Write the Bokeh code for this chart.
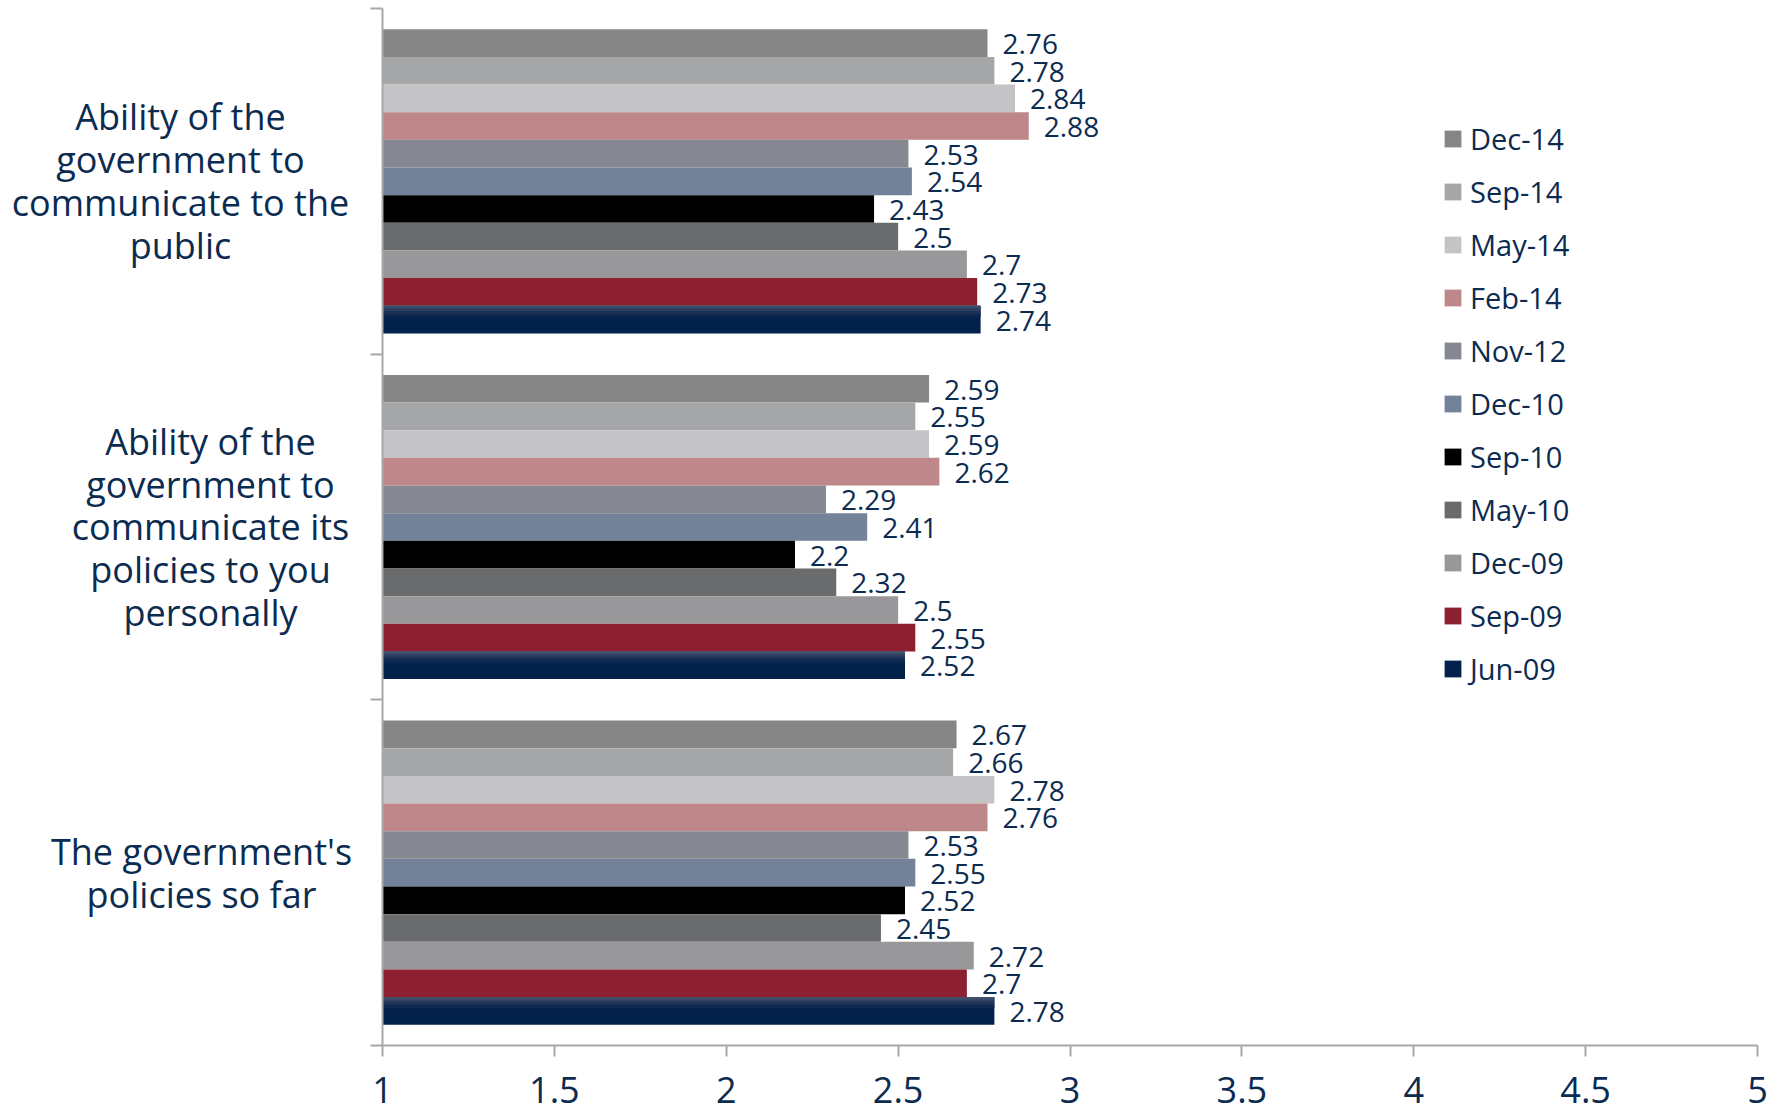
from bokeh.plotting import figure
from bokeh.layouts import row
from bokeh.models import Range1d, FixedTicker, Legend, LegendItem, ColumnDataSource
from bokeh.transform import dodge
from bokeh.core.properties import value
from bokeh.embed import file_html
from bokeh.resources import INLINE

# ---------------- data ----------------
categories = [
    "Ability of the government to communicate to the public",
    "Ability of the government to communicate its policies to you personally",
    "The government's policies so far",
]
category_lines = [
    "Ability of the\ngovernment to\ncommunicate to the\npublic",
    "Ability of the\ngovernment to\ncommunicate its\npolicies to you\npersonally",
    "The government's\npolicies so far",
]
series = ["Dec-14", "Sep-14", "May-14", "Feb-14", "Nov-12", "Dec-10",
          "Sep-10", "May-10", "Dec-09", "Sep-09", "Jun-09"]
dec14 = [2.76, 2.59, 2.67]
sep14 = [2.78, 2.55, 2.66]
may14 = [2.84, 2.59, 2.78]
feb14 = [2.88, 2.62, 2.76]
nov12 = [2.53, 2.29, 2.53]
dec10 = [2.54, 2.41, 2.55]
sep10 = [2.43, 2.20, 2.52]
may10 = [2.50, 2.32, 2.45]
dec09 = [2.70, 2.50, 2.72]
sep09 = [2.73, 2.55, 2.70]
jun09 = [2.74, 2.52, 2.78]
values = [dec14, sep14, may14, feb14, nov12, dec10, sep10, may10, dec09, sep09, jun09]
x_ticks = [1, 1.5, 2, 2.5, 3, 3.5, 4, 4.5, 5]
x_tick_labels = ["1", "1.5", "2", "2.5", "3", "3.5", "4", "4.5", "5"]

# ---------------- style ----------------
colors = ["#868686", "#a5a6a8", "#c4c4c6", "#be878a", "#858891", "#738299",
          "#000000", "#6a6b6d", "#98989a", "#8c1f30", "#03224b"]
jun_grad = ["#3f4e6b", "#2d3f60", "#1b3156", "#0e2850"]
FONT = "Open Sans"
NAVY = "#0c2b50"
AXIS = "#a7a8ae"

H = 1105
TOP = 8
BOTTOM = 60
LEFT_W = 368
MAIN_W = 1407

n_cat = len(categories)
cat_y = [n_cat - i - 0.5 for i in range(n_cat)]
bar_h = 0.08
group_span = bar_h * len(series)
yr = Range1d(0, n_cat)

# ---------------- main plot ----------------
p = figure(width=MAIN_W, height=H, output_backend="svg", toolbar_location=None,
           x_range=Range1d(1, 5), y_range=yr,
           min_border_left=14, min_border_right=18, min_border_top=TOP, min_border_bottom=BOTTOM)
p.outline_line_color = None
p.grid.visible = False

renderers = []
for j, (name, vals, col) in enumerate(zip(series, values, colors)):
    off = group_span / 2 - bar_h * (j + 0.5)
    src = ColumnDataSource(dict(y=cat_y, v=vals, lab=["%g" % v for v in vals]))
    r = p.hbar(y=dodge("y", off), left=1, right="v", height=bar_h,
               fill_color=col, line_color=None, source=src)
    renderers.append(r)
    if name == "Jun-09":
        for k, gc in enumerate(jun_grad):
            p.hbar(y=dodge("y", off + bar_h / 2 - bar_h * 0.1 * (k + 0.5)), left=1, right="v",
                   height=bar_h * 0.1 + 0.001, fill_color=gc, line_color=None, source=src)
    p.text(x="v", y=dodge("y", off), text="lab", x_offset=15, y_offset=1,
           text_baseline="middle", text_align="left", text_font=value(FONT),
           text_font_size="28px", text_color=NAVY, source=src)

p.xaxis.ticker = FixedTicker(ticks=x_ticks)
p.xaxis.major_label_overrides = {t: l for t, l in zip(x_ticks, x_tick_labels)}
p.xaxis.major_label_text_font = FONT
p.xaxis.major_label_text_font_size = "36px"
p.xaxis.major_label_text_color = NAVY
p.xaxis.major_label_standoff = 20
p.xaxis.major_tick_out = 11
p.xaxis.major_tick_in = 0
p.xaxis.minor_tick_line_color = None
p.xaxis.axis_line_color = AXIS
p.xaxis.major_tick_line_color = AXIS
p.xaxis.axis_line_width = 2
p.xaxis.major_tick_line_width = 2

y_bounds = list(range(n_cat + 1))
p.yaxis.ticker = FixedTicker(ticks=y_bounds)
p.yaxis.major_label_overrides = {t: "" for t in y_bounds}
p.yaxis.major_label_standoff = 0
p.yaxis.major_tick_out = 12
p.yaxis.major_tick_in = 0
p.yaxis.minor_tick_line_color = None
p.yaxis.axis_line_color = AXIS
p.yaxis.major_tick_line_color = AXIS
p.yaxis.axis_line_width = 2
p.yaxis.major_tick_line_width = 2

legend = Legend(items=[LegendItem(label=s, renderers=[r]) for s, r in zip(series, renderers)],
                location=(1060, 357), border_line_color=None, background_fill_alpha=0,
                padding=0, margin=0, spacing=14, glyph_width=21, glyph_height=21,
                label_standoff=7, label_height=30, label_text_font=FONT,
                label_text_font_size="29px", label_text_color=NAVY)
p.add_layout(legend)

# ---------------- category labels panel ----------------
lp = figure(width=LEFT_W, height=H, output_backend="svg", toolbar_location=None,
            x_range=Range1d(0, LEFT_W), y_range=yr,
            x_axis_location=None, y_axis_location=None,
            min_border_left=0, min_border_right=0, min_border_top=TOP, min_border_bottom=BOTTOM)
lp.outline_line_color = None
lp.grid.visible = False
label_cx = [180, 210, 201]
lsrc = ColumnDataSource(dict(x=label_cx, y=cat_y, t=category_lines))
lp.text(x="x", y="y", text="t", source=lsrc, text_align="center", text_baseline="middle",
        text_font=value(FONT), text_font_size="36px", text_color=NAVY, text_line_height=0.877)

layout = row(lp, p, spacing=0)
open("out.html", "w").write(file_html(layout, INLINE))
